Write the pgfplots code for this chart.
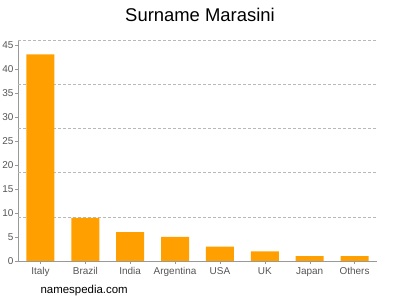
\documentclass[border=0pt]{standalone}
\usepackage{pgfplots}
\pgfplotsset{compat=1.18}
\usepackage{fontspec}
\setmainfont{Liberation Sans}
\definecolor{barorange}{HTML}{FFA000}
\definecolor{axgray}{HTML}{999999}
\definecolor{txtgray}{HTML}{555555}
\begin{document}
\begin{tikzpicture}[x=1bp,y=1bp]
\useasboundingbox (0,0) rectangle (400,300);
\begin{axis}[
  at={(18bp,39bp)}, anchor=south west,
  scale only axis, width=359bp, height=221bp,
  xmin=-0.5, xmax=7.5, ymin=0, ymax=46,
  axis x line=bottom, axis y line=left,
  axis line style={-, draw=axgray},
  xtick={0,...,7},
  xticklabels={Italy,Brazil,India,Argentina,USA,UK,Japan,Others},
  ytick={0,5,...,45},
  tick style={draw=axgray},
  tick align=outside, major tick length=3bp,
  ticklabel style={font=\fontsize{10}{12}\selectfont, text=txtgray},
  /pgf/number format/assume math mode=true,
  xticklabel style={yshift=0bp},
  yticklabel style={xshift=2bp},
  extra y ticks={9.2,18.4,27.6,36.8,46},
  extra y tick labels={},
  extra y tick style={grid=major, major tick length=0pt},
  grid style={dash pattern=on 3bp off 2bp, draw=axgray!70, line width=0.5bp},
  clip=false,
]
\addplot[ybar, bar width=28bp, fill=barorange, draw=none] coordinates {
(0,43) (1,9) (2,6) (3,5) (4,3) (5,2) (6,1) (7,1)
};
\end{axis}
\node[font=\fontsize{18.5}{22}\selectfont, text=black] at (200,285) {Surname Marasini};
\node[font=\fontsize{11.5}{13}\selectfont, text=black, anchor=west] at (37,9) {namespedia.com};
\end{tikzpicture}
\end{document}
